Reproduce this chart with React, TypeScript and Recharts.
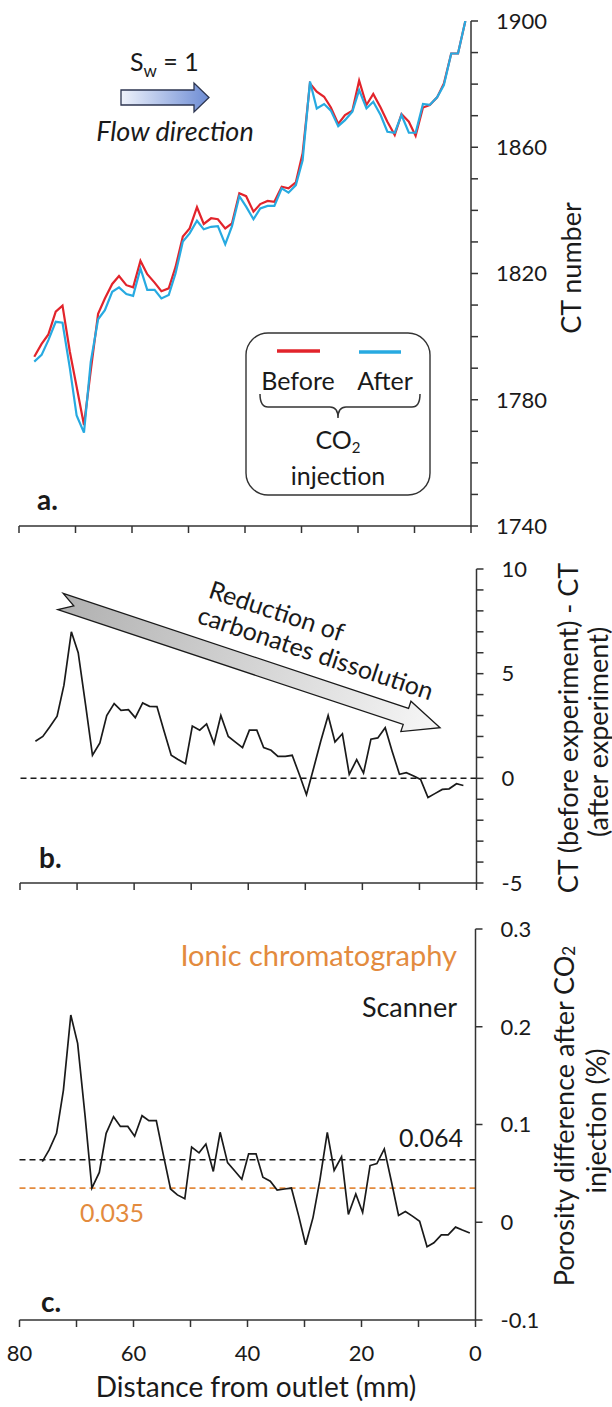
import { LineChart, Line, XAxis, YAxis, ReferenceLine } from 'recharts'

// distance from outlet (mm) of each CT slice
const distance = [
  77.3, 76.0, 74.8, 73.5, 72.3, 71.0, 69.8, 68.5, 67.3, 66.0, 64.8, 63.5, 62.3, 61.0, 59.8, 58.5,
  57.3, 56.0, 54.8, 53.5, 52.3, 51.0, 49.8, 48.5, 47.3, 46.0, 44.8, 43.5, 42.3, 41.0, 39.8, 38.5,
  37.3, 36.0, 34.8, 33.5, 32.3, 31.0, 29.8, 28.5, 27.3, 26.0, 24.8, 23.5, 22.3, 21.0, 19.8, 18.5,
  17.3, 16.0, 14.8, 13.5, 12.3, 11.0, 9.8, 8.5, 7.3, 6.0, 4.8, 3.5, 2.3, 1.0,
]

// panel a: CT number before / after CO2 injection
const ctBefore = [
  1793.6, 1797.7, 1800.7, 1807.9, 1809.8, 1795.2, 1784.1, 1772.0, 1789.2, 1807.2, 1812.1, 1816.7,
  1819.2, 1816.3, 1815.6, 1824.0, 1819.8, 1817.1, 1814.4, 1815.3, 1822.0, 1831.7, 1834.3, 1841.0,
  1835.7, 1837.5, 1837.2, 1834.3, 1835.9, 1845.4, 1844.5, 1839.6, 1842.0, 1843.0, 1842.7, 1847.5,
  1847.0, 1848.9, 1858.1, 1880.2, 1877.6, 1876.0, 1872.6, 1867.4, 1870.2, 1871.6, 1881.1, 1873.4,
  1876.9, 1872.6, 1868.1, 1863.9, 1870.5, 1868.1, 1863.6, 1872.6, 1873.4, 1875.8, 1880.2, 1889.7,
  1889.7, 1900.0,
]
const ctAfter = [
  1792.1, 1794.2, 1798.9, 1804.7, 1804.4, 1790.0, 1775.0, 1769.6, 1792.0, 1805.5, 1808.4, 1814.2,
  1815.6, 1813.5, 1812.9, 1821.6, 1814.8, 1814.8, 1812.1, 1813.2, 1820.0, 1830.1, 1832.7, 1836.7,
  1834.0, 1834.8, 1835.0, 1829.3, 1835.0, 1844.5, 1841.2, 1837.2, 1840.6, 1841.4, 1841.4, 1847.0,
  1845.6, 1848.0, 1855.9, 1880.8, 1872.3, 1873.7, 1871.6, 1866.7, 1868.6, 1871.3, 1878.1, 1872.3,
  1874.4, 1870.2, 1864.9, 1864.6, 1870.2, 1864.6, 1864.6, 1873.7, 1873.4, 1875.8, 1879.7, 1889.7,
  1889.7, 1900.0,
]

// panel b: CT (before) - CT (after)
const ctDifference = [
  1.77, 2.0, 2.45, 2.97, 4.45, 7.0, 6.0, 3.5, 1.1, 1.69, 3.0, 3.57, 3.25, 3.28, 2.9, 3.6, 3.44,
  3.43, 2.3, 1.1, 0.9, 0.7, 2.5, 2.3, 2.6, 1.66, 3.0, 2.0, 1.74, 1.47, 2.3, 2.3, 1.47, 1.34, 1.05,
  1.05, 1.1, 0.15, -0.78, 0.53, 1.77, 3.0, 1.74, 2.13, 0.19, 0.89, 0.25, 1.87, 1.93, 2.42, 1.31,
  0.19, 0.27, 0.11, -0.05, -0.92, -0.73, -0.53, -0.5, -0.26, -0.34, null,
]

// panel c: porosity difference (%)
const porosityDifference = [
  null, 0.062, 0.074, 0.091, 0.135, 0.212, 0.183, 0.109, 0.035, 0.051, 0.091, 0.108, 0.098, 0.098,
  0.088, 0.109, 0.104, 0.104, 0.07, 0.034, 0.028, 0.024, 0.077, 0.071, 0.08, 0.052, 0.092, 0.061,
  0.053, 0.044, 0.07, 0.07, 0.046, 0.042, 0.033, 0.034, 0.035, 0.006, -0.023, 0.005, 0.043, 0.092,
  0.053, 0.067, 0.008, 0.029, 0.01, 0.058, 0.06, 0.075, 0.043, 0.007, 0.011, 0.006, 0.001, -0.025,
  -0.021, -0.013, -0.013, -0.005, -0.008, -0.011,
]

const scannerMean = 0.064
const chromatographyMean = 0.035

const distanceTicks = [0, 10, 20, 30, 40, 50, 60, 70, 80]
const distanceLabels = [0, 20, 40, 60, 80]
const ctTicks = [
  1740, 1750, 1760, 1770, 1780, 1790, 1800, 1810, 1820, 1830, 1840, 1850, 1860, 1870, 1880, 1890, 1900,
]
const ctLabels = [1740, 1780, 1820, 1860, 1900]
const diffTicks = [-5, -4, -3, -2, -1, 0, 1, 2, 3, 4, 5, 6, 7, 8, 9, 10]
const diffLabels = [-5, 0, 5, 10]
const porosityTicks = [-0.1, 0, 0.1, 0.2, 0.3]

const rows = distance.map((d, i) => ({
  distance: d,
  before: ctBefore[i],
  after: ctAfter[i],
  ctDiff: ctDifference[i],
  porosity: porosityDifference[i],
}))

const FONT = 'Lato, "Open Sans", sans-serif'
const RED = '#e2242b'
const BLUE = '#27aae1'
const ORANGE = '#e38b3e'
const FRAME = '#6f6f6f'
const AXIS = '#333'
const TEXT = '#1a1a1a'
const tickStyle = { fontSize: 22, fill: TEXT, fontFamily: FONT }

// top + left frame lines drawn as extra axes without ticks
const frame = [
  <XAxis key="ft" xAxisId="top" orientation="top" type="number" domain={[0, 80]} reversed
    tick={false} tickLine={false} height={0} stroke={FRAME} strokeWidth={1.6} />,
  <YAxis key="fl" yAxisId="left" orientation="left" type="number" domain={[0, 1]}
    tick={false} tickLine={false} width={0} stroke={FRAME} strokeWidth={1.6} />,
]

function bottomAxis(labelled: boolean, height: number) {
  return (
    <XAxis
      type="number"
      dataKey="distance"
      domain={[0, 80]}
      reversed
      ticks={distanceTicks}
      interval={0}
      tickSize={7}
      tickMargin={18}
      height={height}
      stroke={AXIS}
      strokeWidth={1.5}
      tick={tickStyle}
      tickFormatter={(v: number) => (labelled && distanceLabels.includes(v) ? String(v) : '')}
    />
  )
}

function Overlay() {
  return (
    <svg width={612} height={1407} style={{ position: 'absolute', left: 0, top: 0, pointerEvents: 'none' }}
      fontFamily={FONT} fill={TEXT}>
      <defs>
        <linearGradient id="flowGrad" x1="0" y1="0" x2="1" y2="0">
          <stop offset="0" stopColor="#eef2fb" />
          <stop offset="1" stopColor="#6d8cd4" />
        </linearGradient>
        <linearGradient id="trendGrad" x1="0" y1="0" x2="1" y2="0">
          <stop offset="0" stopColor="#b0b0b0" />
          <stop offset="1" stopColor="#f7f7f7" />
        </linearGradient>
      </defs>

      {/* panel a annotations */}
      <text x={130} y={71} fontSize={25}>S<tspan fontSize={17} dy={6}>w</tspan><tspan dy={-6}> = 1</tspan></text>
      <polygon points="121,90 194,90 194,83 209,97.5 194,112 194,105 121,105"
        fill="url(#flowGrad)" stroke="#2c3550" strokeWidth={1.3} />
      <text x={175} y={141} fontSize={27} fontStyle="italic" textAnchor="middle">Flow direction</text>
      <rect x={246} y={333} width={184} height={162} rx={22} fill="#fff" stroke={AXIS} strokeWidth={1.4} />
      <line x1={277} x2={320} y1={351} y2={351} stroke={RED} strokeWidth={3.5} />
      <line x1={359} x2={401} y1={352} y2={352} stroke={BLUE} strokeWidth={3.5} />
      <text x={298} y={390} fontSize={25} textAnchor="middle">Before</text>
      <text x={385} y={390} fontSize={25} textAnchor="middle">After</text>
      <path d="M260,394 Q260,407 268,407 L330,407 Q338,407 338,418 Q338,407 346,407 L412,407 Q420,407 420,394"
        fill="none" stroke={AXIS} strokeWidth={1.5} />
      <text x={338} y={449} fontSize={25} textAnchor="middle">CO<tspan fontSize={15} dy={4}>2</tspan></text>
      <text x={338} y={485} fontSize={25} textAnchor="middle">injection</text>
      <text x={37} y={510} fontSize={28} fontWeight="bold">a.</text>
      <text transform="translate(570 268) rotate(-90)" fontSize={27} textAnchor="middle" dominantBaseline="central">CT number</text>

      {/* panel b annotations */}
      <g transform="translate(60.5 601.5) rotate(18.4)">
        <polygon points="0,-8.5 364,-8.5 364,-16 400,0 364,16 364,8.5 0,8.5 14,0"
          fill="url(#trendGrad)" stroke={TEXT} strokeWidth={1.3} />
      </g>
      <text transform="translate(277 610) rotate(18.4)" fontSize={25} textAnchor="middle" dominantBaseline="central">Reduction of</text>
      <text transform="translate(316 652) rotate(18.4)" fontSize={25} textAnchor="middle" dominantBaseline="central">carbonates dissolution</text>
      <text x={39} y={868} fontSize={28} fontWeight="bold">b.</text>
      <text transform="translate(567 728) rotate(-90)" fontSize={27} textAnchor="middle" dominantBaseline="central">CT (before experiment) - CT</text>
      <text transform="translate(597 732) rotate(-90)" fontSize={27} textAnchor="middle" dominantBaseline="central">(after experiment)</text>

      {/* panel c annotations */}
      <text x={457} y={966} fontSize={29} textAnchor="end" fill={ORANGE}>Ionic chromatography</text>
      <text x={457} y={1017} fontSize={27} textAnchor="end">Scanner</text>
      <text x={463} y={1147} fontSize={25} textAnchor="end">{scannerMean.toFixed(3)}</text>
      <text x={80} y={1222} fontSize={25} fill={ORANGE}>{chromatographyMean.toFixed(3)}</text>
      <text x={41} y={1312} fontSize={28} fontWeight="bold">c.</text>
      <text transform="translate(563 1116) rotate(-90)" fontSize={27} textAnchor="middle" dominantBaseline="central">
        Porosity difference after CO<tspan fontSize={17} dy={5}>2</tspan>
      </text>
      <text transform="translate(595 1121) rotate(-90)" fontSize={27} textAnchor="middle" dominantBaseline="central">injection (%)</text>
      <text x={256} y={1397} fontSize={28} textAnchor="middle">Distance from outlet (mm)</text>
    </svg>
  )
}

export default function App() {
  return (
    <div style={{ position: 'absolute', left: 0, top: 0, width: 612, height: 1407, background: '#fff', fontFamily: FONT }}>
      <div style={{ position: 'absolute', left: 0, top: 0 }}>
        <LineChart width={612} height={545} data={rows} margin={{ top: 21, right: 71, bottom: 0, left: 19 }}>
          {frame}
          {bottomAxis(false, 19)}
          <YAxis orientation="right" type="number" domain={[1740, 1900]} ticks={ctTicks} interval={0}
            tickSize={7} tickMargin={18} width={70} stroke={AXIS} strokeWidth={1.5} tick={tickStyle}
            tickFormatter={(v: number) => (ctLabels.includes(v) ? String(v) : '')} allowDataOverflow />
          <Line type="linear" dataKey="before" stroke={RED} strokeWidth={2.2} dot={false} isAnimationActive={false} />
          <Line type="linear" dataKey="after" stroke={BLUE} strokeWidth={2.2} dot={false} isAnimationActive={false} />
        </LineChart>
      </div>

      <div style={{ position: 'absolute', left: 0, top: 550 }}>
        <LineChart width={612} height={352} data={rows} margin={{ top: 19, right: 65.5, bottom: 0, left: 20 }}>
          {frame}
          {bottomAxis(false, 19)}
          <YAxis orientation="right" type="number" domain={[-5, 10]} ticks={diffTicks} interval={0}
            tickSize={7} tickMargin={18} width={70} stroke={AXIS} strokeWidth={1.5} tick={tickStyle}
            tickFormatter={(v: number) => (diffLabels.includes(v) ? String(v) : '')} />
          <ReferenceLine y={0} stroke={TEXT} strokeDasharray="6 4" strokeWidth={1.5} />
          <Line type="linear" dataKey="ctDiff" stroke={TEXT} strokeWidth={1.7} dot={false} isAnimationActive={false} />
        </LineChart>
      </div>

      <div style={{ position: 'absolute', left: 0, top: 905 }}>
        <LineChart width={612} height={485} data={rows} margin={{ top: 24, right: 66.5, bottom: 0, left: 19.5 }}>
          {frame}
          {bottomAxis(true, 70)}
          <YAxis orientation="right" type="number" domain={[-0.1, 0.3]} ticks={porosityTicks} interval={0}
            tickSize={7} tickMargin={18} width={70} stroke={AXIS} strokeWidth={1.5} tick={tickStyle}
            tickFormatter={(v: number) => (Math.abs(v) < 1e-9 ? '0' : String(v))} />
          <ReferenceLine y={scannerMean} stroke={TEXT} strokeDasharray="6 4" strokeWidth={1.5} />
          <ReferenceLine y={chromatographyMean} stroke={ORANGE} strokeDasharray="6 4" strokeWidth={1.8} />
          <Line type="linear" dataKey="porosity" stroke={TEXT} strokeWidth={1.7} dot={false} isAnimationActive={false} />
        </LineChart>
      </div>

      <Overlay />
    </div>
  )
}
